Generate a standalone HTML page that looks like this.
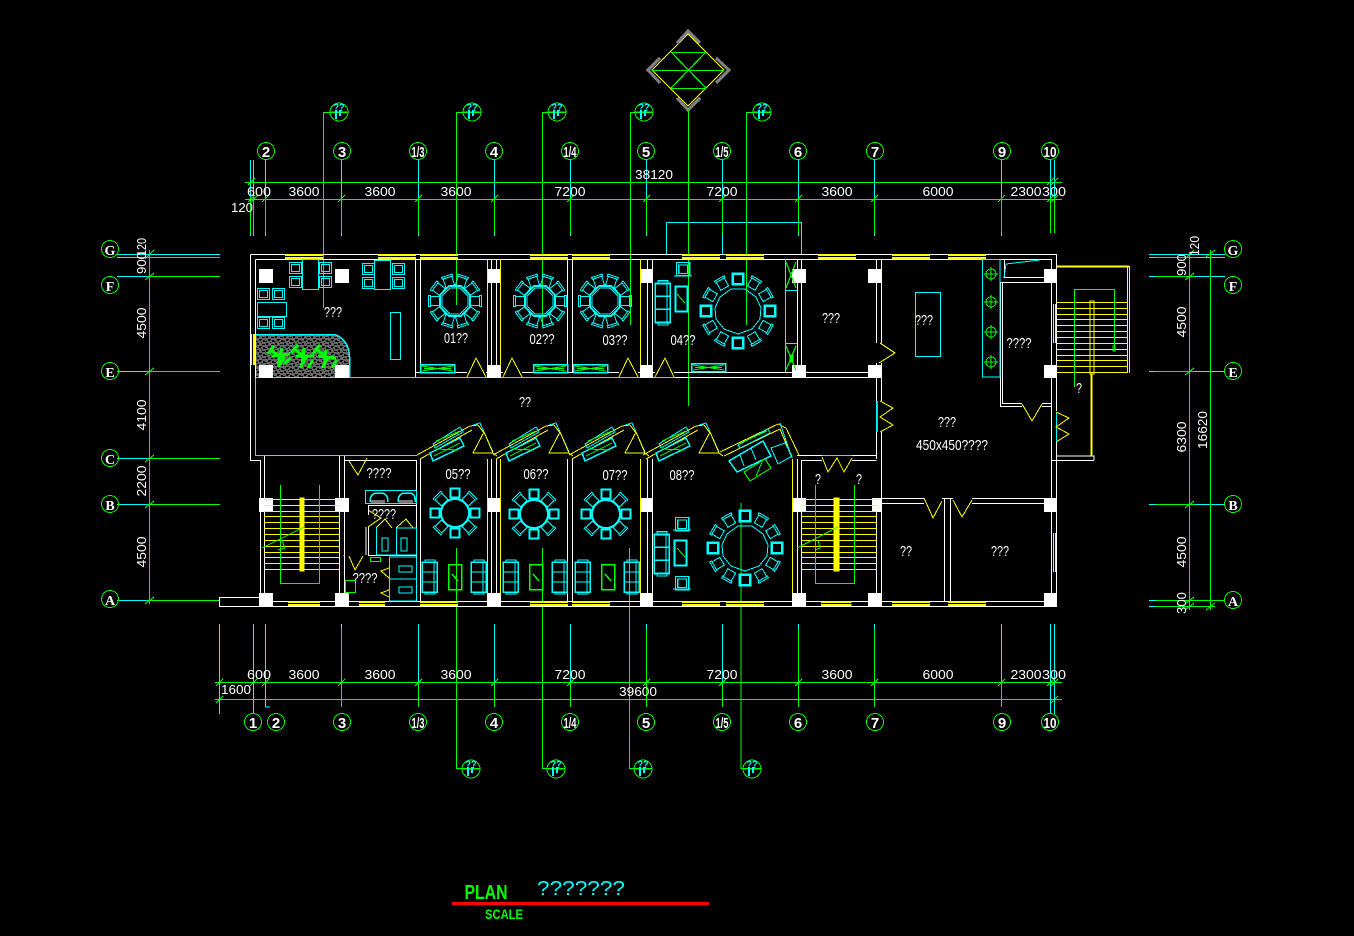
<!DOCTYPE html>
<html><head><meta charset="utf-8"><style>
html,body{margin:0;padding:0;background:#000;width:1354px;height:936px;overflow:hidden}
svg{display:block}
svg *{shape-rendering:crispEdges}
.w{stroke:#fff}.c{stroke:#0ff}.g{stroke:#0f0}.y{stroke:#ff0}
path,rect,polygon,polyline,line,circle{fill:none;stroke-width:1}
text{font-family:"Liberation Sans",sans-serif;fill:#fff;text-anchor:middle;font-size:13px}
.t{font-size:15px}
.b{font-family:"Liberation Serif",serif;font-size:17px;font-weight:bold}
.n{font-size:15px;font-weight:bold}
</style></head><body>
<svg width="1354" height="936" viewBox="0 0 1354 936" xmlns="http://www.w3.org/2000/svg">
<defs>
<pattern id="noise" width="9" height="7" patternUnits="userSpaceOnUse"><rect width="9" height="7" style="fill:#666;stroke:none"/><path d="M1 1h3v1h-3zM5 0h2v2h-2zM7 3h2v2h-2zM2 4h2v2h-2zM4 5h2v1h-2zM0 6h1v1h-1zM0 3h1v1h-1z" style="fill:#000;stroke:none"/></pattern>
<g id="c" class="c"><path d="M-4.5-3.5h9v9h-9zM-5.5-5.5h11v2h-11z"/></g>
<g id="cb" class="c"><rect x="-5" y="-5" width="10" height="10" style="stroke-width:2"/><path d="M-6-6h12v12h-12z"/></g>
<g id="o10" class="c"><polygon points="-6,-15 6,-15 15,-6 15,6 6,15 -6,15 -15,6 -15,-6" style="stroke-width:1.6"/><polygon points="-5,-13 5,-13 13,-5 13,5 5,13 -5,13 -13,5 -13,-5"/></g>
<g id="t10"><use href="#o10"/>
<use href="#c" transform="rotate(18) translate(0,-21)"/><use href="#c" transform="rotate(54) translate(0,-21)"/><use href="#c" transform="rotate(90) translate(0,-21)"/><use href="#c" transform="rotate(126) translate(0,-21)"/><use href="#c" transform="rotate(162) translate(0,-21)"/><use href="#c" transform="rotate(198) translate(0,-21)"/><use href="#c" transform="rotate(234) translate(0,-21)"/><use href="#c" transform="rotate(270) translate(0,-21)"/><use href="#c" transform="rotate(306) translate(0,-21)"/><use href="#c" transform="rotate(342) translate(0,-21)"/></g>
<g id="t8"><circle r="14" class="c" style="stroke-width:2"/>
<use href="#cb" transform="rotate(0) translate(0,-20) scale(.85)"/><use href="#c" transform="rotate(45) translate(0,-20)"/><use href="#cb" transform="rotate(90) translate(0,-20) scale(.85)"/><use href="#c" transform="rotate(135) translate(0,-20)"/><use href="#cb" transform="rotate(180) translate(0,-20) scale(.85)"/><use href="#c" transform="rotate(225) translate(0,-20)"/><use href="#cb" transform="rotate(270) translate(0,-20) scale(.85)"/><use href="#c" transform="rotate(315) translate(0,-20)"/></g>
<g id="t12"><polygon class="c" points="-7,-22 7,-22 18,-14 23,-3 22,8 14,18 0,23 -14,18 -22,8 -23,-3 -18,-14"/>
<use href="#cb" transform="rotate(0) translate(0,-32)"/><use href="#c" transform="rotate(30) translate(0,-32)"/><use href="#c" transform="rotate(60) translate(0,-32)"/><use href="#cb" transform="rotate(90) translate(0,-32)"/><use href="#c" transform="rotate(120) translate(0,-32)"/><use href="#c" transform="rotate(150) translate(0,-32)"/><use href="#cb" transform="rotate(180) translate(0,-32)"/><use href="#c" transform="rotate(210) translate(0,-32)"/><use href="#c" transform="rotate(240) translate(0,-32)"/><use href="#cb" transform="rotate(270) translate(0,-32)"/><use href="#c" transform="rotate(300) translate(0,-32)"/><use href="#c" transform="rotate(330) translate(0,-32)"/></g>
<g id="sofa" class="c"><rect x="0" y="1" width="15" height="30" style="stroke-width:1.5"/><path d="M3 1V-1H13V1M3 31v2H13V31M0 11H15M0 21H15M12 1V31"/></g>
<g id="sq" class="c"><rect x=".5" y=".5" width="12" height="11"/><rect x="2.5" y="2.5" width="8" height="7"/></g>
<g id="tbl"><rect x=".5" y=".5" width="13" height="25" class="g" style="stroke-width:1.5"/><path class="g" d="M4 10L10 17" style="stroke-width:1.5"/></g>
<g id="wx" ><rect x=".5" y=".5" width="34" height="8" class="c" style="stroke-width:1.5"/><path class="g" d="M2 2L33 7M2 7L33 2M4 4.5H31"/></g>
<g id="tr" class="y"><path d="M0 499.5H76M0 505.5H76M0 511.5H76M0 516.5H76M0 522.5H76M0 528.5H76M0 534.5H76M0 540.5H76M0 546.5H76M0 552.5H76M0 557.5H76M0 563.5H76M0 569.5H76"/></g>
<g id="win"><rect x="0" y="0" width="38" height="5" style="fill:#ff0;stroke:none"/><rect x="0" y="2" width="38" height="1" style="fill:#000;stroke:none"/></g>
<g id="sl">
<path class="y" d="M417 455L470 426L478 425M420 459L472 430M478 425L484 433"/>
<path class="c" d="M473 425L480 423L493 452"/>
<polygon class="c" points="433,444 460,427 463,432 435,448"/>
<polygon class="c" points="430,453 460,438 464,446 433,461" style="stroke-width:1.5"/>
<path class="g" d="M436 441L460 431M434 456L460 443M436 449L458 450"/>
<polygon class="y" points="473,453 484,432 493,453"/>
<path class="y" d="M493 453L497 456"/>
</g>
<g id="bb"><circle r="8.5" class="g"/></g>
<g id="sec"><circle r="9" class="g"/><path class="g" d="M-9 0H9"/><path class="c" d="M-3-2v9M1-2v6" style="stroke-width:2"/><text y="-1" style="font-size:11px;font-weight:bold;fill:#0ff" textLength="11" lengthAdjust="spacingAndGlyphs">??</text></g>
</defs>

<!-- north arrow -->
<g>
<polygon class="y" points="688,34 724,70 688,106 652,70"/>
<path class="g" d="M671 52.5H706M652 70.5H724M671 88.5H706M671 52L706 88M706 52L671 88" style="stroke-width:1.2"/>
<path d="M677 43L688 31L700 43M660 58L648 70L660 83M716 58L729 70L716 83M677 98L688 110L700 98" style="stroke:#808080;stroke-width:3"/>
<path class="g" d="M688.5 110V406"/>
</g>

<!-- section leaders -->
<path class="g" d="M348 112.5H323.5V308M481 112.5H456.5V305M566 112.5H542.5V325M653 112.5H630.5V325M771 112.5H746.5V325M456.5 548V768.5H480M542.5 548V768.5H565M629.5 548V768.5H652M741 503V768.5H761"/>
<use href="#sec" transform="translate(339,112)"/><use href="#sec" transform="translate(472,112)"/><use href="#sec" transform="translate(557,112)"/><use href="#sec" transform="translate(644,112)"/><use href="#sec" transform="translate(762,112)"/>
<use href="#sec" transform="translate(471,769)"/><use href="#sec" transform="translate(556,769)"/><use href="#sec" transform="translate(643,769)"/><use href="#sec" transform="translate(752,769)"/>

<!-- top dims -->
<path class="g" d="M245 182.5H1062M245 199.5H1062"/>
<path class="g" d="M250.5 197V233M253.5 197V233M265.5 197V233M341.5 197V233M418.5 197V233M494.5 197V233M570.5 197V233M646.5 197V233M722.5 197V233M798.5 197V233M874.5 197V233M1001.5 197V233M1050.5 197V233M1054.5 197V233"/>
<path class="c" d="M250.5 160V197M253.5 160V197M265.5 160V197M341.5 160V197M418.5 160V197M494.5 160V197M570.5 160V197M646.5 160V197M722.5 160V197M798.5 160V197M874.5 160V197M1001.5 160V197M1050.5 160V197M1054.5 160V197M250.5 233V236M253.5 233V236M265.5 233V236M341.5 233V236M418.5 233V236M494.5 233V236M570.5 233V236M646.5 233V236M722.5 233V254M798.5 233V236M874.5 233V236M1001.5 233V236M666.5 222.5V254M666.5 222.5H801.5V254"/>
<path class="g" d="M248 202L255 195M251 202L258 195M262 202L269 195M338 202L345 195M415 202L422 195M491 202L498 195M567 202L574 195M643 202L650 195M719 202L726 195M795 202L802 195M871 202L878 195M998 202L1005 195M1047 202L1054 195M1051 202L1058 195M248 185L255 178M1047 185L1054 178M1051 185L1058 178"/>
<g class="t2">
<text x="259" y="196" textLength="24" lengthAdjust="spacingAndGlyphs">600</text><text x="304" y="196" textLength="31" lengthAdjust="spacingAndGlyphs">3600</text><text x="380" y="196" textLength="31" lengthAdjust="spacingAndGlyphs">3600</text><text x="456" y="196" textLength="31" lengthAdjust="spacingAndGlyphs">3600</text><text x="570" y="196" textLength="31" lengthAdjust="spacingAndGlyphs">7200</text><text x="722" y="196" textLength="31" lengthAdjust="spacingAndGlyphs">7200</text><text x="837" y="196" textLength="31" lengthAdjust="spacingAndGlyphs">3600</text><text x="938" y="196" textLength="31" lengthAdjust="spacingAndGlyphs">6000</text><text x="1026" y="196" textLength="31" lengthAdjust="spacingAndGlyphs">2300</text><text x="1054" y="196" textLength="24" lengthAdjust="spacingAndGlyphs">300</text>
<text x="654" y="179" textLength="38" lengthAdjust="spacingAndGlyphs">38120</text><text x="242" y="212" textLength="22" lengthAdjust="spacingAndGlyphs">120</text>
</g>
<use href="#bb" transform="translate(266,151)"/><use href="#bb" transform="translate(342,151)"/><use href="#bb" transform="translate(418,151)"/><use href="#bb" transform="translate(494,151)"/><use href="#bb" transform="translate(570,151)"/><use href="#bb" transform="translate(646,151)"/><use href="#bb" transform="translate(722,151)"/><use href="#bb" transform="translate(798,151)"/><use href="#bb" transform="translate(875,151)"/><use href="#bb" transform="translate(1002,151)"/><use href="#bb" transform="translate(1050,151)"/>
<text class="n" x="266" y="157">2</text><text class="n" x="342" y="157">3</text><text class="n" x="418" y="157" textLength="13" lengthAdjust="spacingAndGlyphs">1/3</text><text class="n" x="494" y="157">4</text><text class="n" x="570" y="157" textLength="13" lengthAdjust="spacingAndGlyphs">1/4</text><text class="n" x="646" y="157">5</text><text class="n" x="722" y="157" textLength="13" lengthAdjust="spacingAndGlyphs">1/5</text><text class="n" x="798" y="157">6</text><text class="n" x="875" y="157">7</text><text class="n" x="1002" y="157">9</text><text class="n" x="1050" y="157" textLength="13" lengthAdjust="spacingAndGlyphs">10</text>

<!-- bottom dims -->
<path class="g" d="M215 682.5H1062M215 699.5H1062M341.5 630V707M646.5 630V707M722.5 682V707M798.5 630V707M874.5 630V707M1001.5 682V707"/>
<path class="c" d="M219.5 624V714M253.5 624V714M265.5 624V707H270M341.5 624V630M418.5 624V682M494.5 624V682M570.5 624V682M646.5 624V630M722.5 624V682M798.5 624V630M874.5 624V630M1001.5 624V682M1050.5 624V714M1054.5 624V714"/>
<path class="g" d="M418.5 682V707M494.5 682V707M570.5 682V707M216 686L223 679M216 703L223 696M250 686L257 679M262 686L269 679M338 686L345 679M415 686L422 679M491 686L498 679M567 686L574 679M643 686L650 679M719 686L726 679M795 686L802 679M871 686L878 679M998 686L1005 679M1047 686L1054 679M1051 686L1058 679M1051 703L1058 696"/>
<text x="259" y="679" textLength="24" lengthAdjust="spacingAndGlyphs">600</text><text x="304" y="679" textLength="31" lengthAdjust="spacingAndGlyphs">3600</text><text x="380" y="679" textLength="31" lengthAdjust="spacingAndGlyphs">3600</text><text x="456" y="679" textLength="31" lengthAdjust="spacingAndGlyphs">3600</text><text x="570" y="679" textLength="31" lengthAdjust="spacingAndGlyphs">7200</text><text x="722" y="679" textLength="31" lengthAdjust="spacingAndGlyphs">7200</text><text x="837" y="679" textLength="31" lengthAdjust="spacingAndGlyphs">3600</text><text x="938" y="679" textLength="31" lengthAdjust="spacingAndGlyphs">6000</text><text x="1026" y="679" textLength="31" lengthAdjust="spacingAndGlyphs">2300</text><text x="1054" y="679" textLength="24" lengthAdjust="spacingAndGlyphs">300</text>
<text x="236" y="694" textLength="30" lengthAdjust="spacingAndGlyphs">1600</text><text x="638" y="696" textLength="38" lengthAdjust="spacingAndGlyphs">39600</text>
<use href="#bb" transform="translate(253,722)"/><use href="#bb" transform="translate(276,722)"/><use href="#bb" transform="translate(342,722)"/><use href="#bb" transform="translate(418,722)"/><use href="#bb" transform="translate(494,722)"/><use href="#bb" transform="translate(570,722)"/><use href="#bb" transform="translate(646,722)"/><use href="#bb" transform="translate(722,722)"/><use href="#bb" transform="translate(798,722)"/><use href="#bb" transform="translate(875,722)"/><use href="#bb" transform="translate(1002,722)"/><use href="#bb" transform="translate(1050,722)"/>
<text class="n" x="253" y="728">1</text><text class="n" x="276" y="728">2</text><text class="n" x="342" y="728">3</text><text class="n" x="418" y="728" textLength="13" lengthAdjust="spacingAndGlyphs">1/3</text><text class="n" x="494" y="728">4</text><text class="n" x="570" y="728" textLength="13" lengthAdjust="spacingAndGlyphs">1/4</text><text class="n" x="646" y="728">5</text><text class="n" x="722" y="728" textLength="13" lengthAdjust="spacingAndGlyphs">1/5</text><text class="n" x="798" y="728">6</text><text class="n" x="875" y="728">7</text><text class="n" x="1002" y="728">9</text><text class="n" x="1050" y="728" textLength="13" lengthAdjust="spacingAndGlyphs">10</text>

<!-- left dims -->
<path class="c" d="M117 254.5H220M117 257.5H147M117 276.5H147M117 371.5H147M117 458.5H147M117 504.5H147M117 600.5H147"/>
<path class="g" d="M147 257.5H220M147 276.5H220M147 371.5H220M147 458.5H220M147 504.5H220M147 600.5H220M149.5 250V604M145 259L154 250M145 280L154 273M145 375L154 368M145 462L154 455M145 508L154 501M145 604L154 597"/>
<use href="#bb" transform="translate(110,249)"/><use href="#bb" transform="translate(110,285)"/><use href="#bb" transform="translate(110,371)"/><use href="#bb" transform="translate(110,458)"/><use href="#bb" transform="translate(110,504)"/><use href="#bb" transform="translate(110,599)"/>
<text class="b" x="110" y="255" style="font-size:14px">G</text><text class="b" x="110" y="291" style="font-size:14px">F</text><text class="b" x="110" y="377" style="font-size:14px">E</text><text class="b" x="110" y="464" style="font-size:14px">C</text><text class="b" x="110" y="510" style="font-size:14px">B</text><text class="b" x="110" y="605" style="font-size:14px">A</text>
<text transform="translate(146,323) rotate(-90)" textLength="31" lengthAdjust="spacingAndGlyphs">4500</text>
<text transform="translate(146,415) rotate(-90)" textLength="31" lengthAdjust="spacingAndGlyphs">4100</text>
<text transform="translate(146,481) rotate(-90)" textLength="31" lengthAdjust="spacingAndGlyphs">2200</text>
<text transform="translate(146,552) rotate(-90)" textLength="31" lengthAdjust="spacingAndGlyphs">4500</text>
<text transform="translate(146,263) rotate(-90)" textLength="22" lengthAdjust="spacingAndGlyphs">900</text>
<text transform="translate(146,247) rotate(-90)" textLength="18" lengthAdjust="spacingAndGlyphs">120</text>

<!-- right dims -->
<path class="c" d="M1149 254.5H1225M1149 257.5H1225M1149 276.5H1156M1195 276.5H1225M1149 371.5H1156M1195 371.5H1225M1149 504.5H1156M1195 504.5H1225M1149 600.5H1156M1195 600.5H1225M1149 606.5H1156"/>
<path class="g" d="M1156 257.5H1195M1156 276.5H1195M1156 371.5H1195M1156 504.5H1195M1156 600.5H1225M1156 606.5H1215M1189.5 252V610M1210.5 250V610M1185 259L1194 250M1185 280L1194 273M1185 375L1194 368M1185 508L1194 501M1185 604L1194 597M1185 610L1194 603M1206 257L1215 250M1206 610L1215 603"/>
<use href="#bb" transform="translate(1233,249)"/><use href="#bb" transform="translate(1233,285)"/><use href="#bb" transform="translate(1233,371)"/><use href="#bb" transform="translate(1233,504)"/><use href="#bb" transform="translate(1233,600)"/>
<text class="b" x="1233" y="255" style="font-size:14px">G</text><text class="b" x="1233" y="291" style="font-size:14px">F</text><text class="b" x="1233" y="377" style="font-size:14px">E</text><text class="b" x="1233" y="510" style="font-size:14px">B</text><text class="b" x="1233" y="606" style="font-size:14px">A</text>
<text transform="translate(1186,322) rotate(-90)" textLength="31" lengthAdjust="spacingAndGlyphs">4500</text>
<text transform="translate(1186,437) rotate(-90)" textLength="31" lengthAdjust="spacingAndGlyphs">6300</text>
<text transform="translate(1186,552) rotate(-90)" textLength="31" lengthAdjust="spacingAndGlyphs">4500</text>
<text transform="translate(1186,265) rotate(-90)" textLength="22" lengthAdjust="spacingAndGlyphs">900</text>
<text transform="translate(1186,603) rotate(-90)" textLength="22" lengthAdjust="spacingAndGlyphs">300</text>
<text transform="translate(1199,246) rotate(-90)" textLength="20" lengthAdjust="spacingAndGlyphs">120</text>
<text transform="translate(1207,430) rotate(-90)" textLength="38" lengthAdjust="spacingAndGlyphs">16620</text>

<!-- planter -->
<path d="M256 334H335Q349 340 349 357V377H256Z" style="fill:url(#noise);stroke:none"/>
<path class="c" d="M256 334.5H335Q349 340 349.5 357V377" style="stroke-width:1.5"/>
<path class="g" d="M270 350L284 358L278 367M272 356L290 354M282 348L278 364M268 354L274 346M284 364L291 358M293 348L306 358L300 368M296 356L314 356M304 348L302 366M291 353L298 345M308 368L313 360M315 348L328 358L322 368M318 356L336 358M326 350L324 368M313 354L320 345M332 368L337 360" style="stroke-width:3"/>

<!-- walls -->
<path class="w" d="M250.5 254.5H1056.5V411M1056.5 442V606.5H219.5V597.5H260.5V460.5H250.5V254.5"/>
<path class="w" d="M255.5 259.5H1051.5V600M255.5 259.5V378M273 601.5H1052"/>
<path class="w" d="M415.5 259V377M420.5 259V372M491.5 259V372M496.5 259V372M567.5 259V372M572.5 259V372M647.5 259V372M652.5 259V372M797.5 259V372M801.5 259V377M876.5 259V343M881.5 259V343M876.5 363V401M881.5 363V401M876.5 432V459M881.5 432V600"/>
<path class="w" d="M416 372.5H467M486 372.5H503M522 372.5H619M638 372.5H655M674 372.5H876M675 377.5H877"/>
<path class="c" d="M255.5 378V455.5H417M256 377.5H675M876.5 401V432"/>
<path class="g" d="M877.5 401V432"/>
<path class="c" d="M1056.5 412V442"/>
<path class="y" d="M880 343L895 353L879 363M880 401L893 408L880 417L893 425L880 432M1056 412L1069 418L1056 427L1069 434L1056 442" style="stroke-width:1"/>
<!-- lower walls -->
<path class="w" d="M264.5 456V601M339.5 456V601M344.5 456V601M345 460.5H416.5V601M420.5 459V601M491.5 459V601M496.5 459V601M567.5 459V601M572.5 459V601M647.5 459V601M652.5 459V601M797.5 459V601M801.5 460V601M801 460.5H822M852 460.5H876.5M797 455.5H822M852 455.5H876.5M876.5 498V601M881 498.5H924M881 503.5H924M942 498.5H953M972 498.5H1044M972 503.5H1044M944.5 499V601M950.5 499V601M1051.5 460.5H1094M1056.5 456H1094V460"/>
<path class="y" d="M487.5 259V365M500.5 259V365M640.5 259V365M487.5 459V593M500.5 459V593M640.5 459V593M792.5 459V593" style="stroke-width:1.3"/>
<path class="c" d="M822 455.5H852"/>
<path class="y" d="M822 457L828 472L837 458L844 472L852 458M924 498L933 518L942 501M953 500L962 517L972 500M1022 404L1032 421L1042 404"/>
<!-- room at right -->
<path class="w" d="M1000.5 282V406.5H1022M1002.5 282V403.5H1022M1042 403.5H1052M1042 406.5H1052M1000 282.5H1044M1004.5 260V277.5H1044"/>
<path class="c" d="M1004 278L1006 264L1040 260M982.5 259.5H1000V377H982.5Z"/>
<g class="g"><circle cx="991" cy="274" r="5"/><circle cx="991" cy="302" r="5"/><circle cx="991" cy="332" r="5"/><circle cx="991" cy="362" r="5"/><path d="M984 274H998M991 267V281M984 302H998M991 295V309M984 332H998M991 325V339M984 362H998M991 355V369"/></g>
<rect class="c" x="915.5" y="292.5" width="25" height="64"/>

<!-- columns -->
<g style="fill:#fff">
<rect x="259" y="269" width="14" height="14" style="fill:#fff;stroke:none"/><rect x="335" y="269" width="14" height="14" style="fill:#fff;stroke:none"/><rect x="488" y="269" width="12" height="14" style="fill:#fff;stroke:none"/><rect x="641" y="269" width="12" height="14" style="fill:#fff;stroke:none"/><rect x="792" y="269" width="14" height="14" style="fill:#fff;stroke:none"/><rect x="868" y="269" width="14" height="14" style="fill:#fff;stroke:none"/><rect x="1044" y="269" width="13" height="14" style="fill:#fff;stroke:none"/>
<rect x="259" y="365" width="14" height="13" style="fill:#fff;stroke:none"/><rect x="335" y="365" width="14" height="13" style="fill:#fff;stroke:none"/><rect x="487" y="365" width="14" height="13" style="fill:#fff;stroke:none"/><rect x="640" y="365" width="13" height="13" style="fill:#fff;stroke:none"/><rect x="792" y="365" width="14" height="13" style="fill:#fff;stroke:none"/><rect x="868" y="365" width="14" height="13" style="fill:#fff;stroke:none"/><rect x="1044" y="365" width="13" height="13" style="fill:#fff;stroke:none"/>
<rect x="259" y="498" width="14" height="14" style="fill:#fff;stroke:none"/><rect x="335" y="498" width="14" height="14" style="fill:#fff;stroke:none"/><rect x="488" y="498" width="12" height="14" style="fill:#fff;stroke:none"/><rect x="641" y="498" width="12" height="14" style="fill:#fff;stroke:none"/><rect x="793" y="498" width="13" height="14" style="fill:#fff;stroke:none"/><rect x="872" y="498" width="10" height="14" style="fill:#fff;stroke:none"/><rect x="1044" y="498" width="13" height="14" style="fill:#fff;stroke:none"/>
<rect x="259" y="593" width="14" height="14" style="fill:#fff;stroke:none"/><rect x="335" y="593" width="14" height="14" style="fill:#fff;stroke:none"/><rect x="487" y="593" width="14" height="14" style="fill:#fff;stroke:none"/><rect x="640" y="593" width="13" height="14" style="fill:#fff;stroke:none"/><rect x="792" y="593" width="14" height="14" style="fill:#fff;stroke:none"/><rect x="868" y="593" width="14" height="14" style="fill:#fff;stroke:none"/><rect x="1044" y="593" width="13" height="14" style="fill:#fff;stroke:none"/>
</g>

<!-- windows -->
<use href="#win" transform="translate(285,254)"/><use href="#win" transform="translate(378,254)"/><use href="#win" transform="translate(420,254)"/><use href="#win" transform="translate(530,254)"/><use href="#win" transform="translate(572,254)"/><use href="#win" transform="translate(682,254)"/><use href="#win" transform="translate(726,254)"/><use href="#win" transform="translate(818,254)"/><use href="#win" transform="translate(892,254)"/><use href="#win" transform="translate(948,254)"/>
<use href="#win" transform="translate(288,601) scale(.84,1)"/><use href="#win" transform="translate(359,601) scale(.68,1)"/><use href="#win" transform="translate(420,601)"/><use href="#win" transform="translate(530,601)"/><use href="#win" transform="translate(572,601)"/><use href="#win" transform="translate(682,601)"/><use href="#win" transform="translate(726,601)"/><use href="#win" transform="translate(821,601) scale(.8,1)"/><use href="#win" transform="translate(892,601)"/><use href="#win" transform="translate(948,601)"/>
<path class="y" d="M251.5 334V365M253.5 334V365M254.5 334V365M1053.5 304V343M1055.5 304V343M1053.5 533V572M1055.5 533V572"/>

<!-- upper furniture -->
<g class="c" style="stroke-width:1.5">
<rect x="302.5" y="259.5" width="16" height="30"/><rect x="374.5" y="260.5" width="16" height="29"/><rect x="257.5" y="302.5" width="29" height="14"/><rect x="390.5" y="312.5" width="10" height="47"/>
</g>
<use href="#sq" transform="translate(289,262)"/><use href="#sq" transform="translate(289,276)"/><use href="#sq" transform="translate(319,262)"/><use href="#sq" transform="translate(319,276)"/><use href="#sq" transform="translate(362,263)"/><use href="#sq" transform="translate(362,277)"/><use href="#sq" transform="translate(392,263)"/><use href="#sq" transform="translate(392,277)"/><use href="#sq" transform="translate(257,288)"/><use href="#sq" transform="translate(272,288)"/><use href="#sq" transform="translate(257,317)"/><use href="#sq" transform="translate(272,317)"/>
<use href="#t10" transform="translate(455,301)"/><use href="#t10" transform="translate(540,301)"/><use href="#t10" transform="translate(605,301)"/>
<use href="#t12" transform="translate(738,311)"/>
<use href="#wx" transform="translate(420,364)"/><use href="#wx" transform="translate(533,364)"/><use href="#wx" transform="translate(573,364)"/><use href="#wx" transform="translate(691,363)"/>
<path class="y" d="M467 377L476 358L486 377M503 377L512 358L522 377M619 377L628 358L638 377M655 377L665 358L674 377"/>
<use href="#sofa" transform="translate(655,282) scale(1,1.3)"/>
<rect class="c" x="675.5" y="286.5" width="12" height="25" style="stroke-width:2"/><path class="g" d="M677 294L685 303"/>
<use href="#sq" transform="translate(676,262) scale(1.1,1.2)"/><path class="c" d="M674 276H692"/>
<path class="c" d="M785.5 259V372M785.5 290.5H797M785.5 343.5H797"/>
<path class="g" d="M786 262L796 288M796 262L786 288M786 346L796 370M796 346L786 370" style="stroke-width:1.2"/>
<path class="g" d="M790 355h3v7h-3z" style="fill:#0f0"/>

<!-- right stair -->
<path class="y" d="M1057 266.5H1129M1127.5 266V373M1129.5 266V373"/>
<path class="y" d="M1057 266.5H1129" style="stroke-width:2"/>
<use href="#tr" transform="translate(1057,-197) scale(.92,1)"/>
<rect x="1090" y="301" width="4" height="73" style="stroke:#ff0;stroke-width:1"/>
<path class="y" d="M1091.5 374V456" style="stroke-width:2"/>
<path class="g" d="M1074.5 387V289.5H1114.5V350"/>
<path class="g" d="M1113 346h2v5h-2z"/>

<!-- left stair -->
<use href="#tr" transform="translate(264,0)"/>
<rect x="300" y="498" width="4" height="73" style="fill:#ff0;stroke:#ff0"/>
<path class="g" d="M280.5 485V583.5H319.5V485M262 548L304 527M278 550L285 548L282 540"/>
<use href="#tr" transform="translate(801,0)"/>
<rect x="834" y="498" width="5" height="73" style="fill:#ff0;stroke:#ff0"/>
<path class="g" d="M815.5 485V583.5H854.5V485M797 548L838 527M815 550L820 548L818 540"/>

<!-- toilets -->
<path class="y" d="M349 461L358 475L367 458M349 556L355 570L363 556M381 518L368 527M368 510L381 518"/>
<rect class="c" x="365.5" y="490.5" width="51" height="13"/>
<path class="c" d="M370 502Q370 494 376 493H382Q388 494 388 502M398 502Q398 494 404 493H410Q416 494 415 502" style="stroke-width:1.5"/>
<path d="M371 503h14v-3h-14zM399 503h14v-3h-14z" style="fill:#777;stroke:none"/>
<path class="w" d="M368.5 505.5H416M368.5 505V515M368.5 527V555.5H416M366 527V555M344 555V556"/>
<path class="c" d="M376.5 528V555H416.5V528H396.5V555M382 538h6v13h-6zM401 538h6v13h-6z"/>
<path class="y" d="M376 528L385 519L392 528M396 528L406 519L413 528"/>
<path class="c" d="M389.5 557H416.5V601H389.5ZM389.5 579H416.5M399 566h13v6h-13zM399 587h13v6h-13z"/>
<path class="y" d="M389 568L381 571L389 578M389 590L381 593L389 597"/>
<rect class="g" x="345.5" y="580.5" width="10" height="12"/>
<rect class="g" x="370.5" y="557.5" width="10" height="4"/>

<!-- lower rooms -->
<use href="#sl"/><use href="#sl" transform="translate(76,0)"/><use href="#sl" transform="translate(152,0)"/><use href="#sl" transform="translate(226,0)"/>
<path class="y" d="M720 452L778 424L786 428L799 455M724 456L780 429L792 458"/>
<path class="c" d="M780 423L792 458"/>
<polygon class="c" points="738,445 768,429 770,433 740,448"/>
<path class="g" d="M740 443L767 431"/>
<polygon class="c" points="729,461 763,441 771,456 737,472" style="stroke-width:1.5"/>
<path class="c" d="M740 455L744 466M751 448L756 460"/>
<polygon class="c" points="771,448 785,443 792,456 778,464"/>
<polygon class="g" points="744,472 765,459 771,468 750,481"/>
<path class="g" d="M756 476L762 462"/>
<use href="#t8" transform="translate(455,513)"/><use href="#t8" transform="translate(534,514)"/><use href="#t8" transform="translate(606,514)"/>
<use href="#t12" transform="translate(745,548)"/>
<use href="#sofa" transform="translate(422,561)"/><use href="#sofa" transform="translate(471,561)"/><use href="#sofa" transform="translate(503,561)"/><use href="#sofa" transform="translate(552,561)"/><use href="#sofa" transform="translate(575,561)"/><use href="#sofa" transform="translate(624,561)"/>
<use href="#tbl" transform="translate(448,564)"/><use href="#tbl" transform="translate(529,564)"/><use href="#tbl" transform="translate(601,564)"/>
<use href="#sofa" transform="translate(654,533) scale(1,1.3)"/>
<rect class="c" x="674.5" y="540.5" width="12" height="25" style="stroke-width:2"/><path class="g" d="M677 548L685 557"/>
<use href="#sq" transform="translate(675,517) scale(1.1,1.2)"/><use href="#sq" transform="translate(675,576) scale(1.1,1.2)"/>
<path class="c" d="M673 530H691M673 589H691"/>

<!-- room labels -->
<g>
<text class="t" x="333" y="317" textLength="18" lengthAdjust="spacingAndGlyphs">???</text>
<text class="t" x="456" y="343" textLength="24" lengthAdjust="spacingAndGlyphs">01??</text>
<text class="t" x="542" y="344" textLength="25" lengthAdjust="spacingAndGlyphs">02??</text>
<text class="t" x="615" y="345" textLength="25" lengthAdjust="spacingAndGlyphs">03??</text>
<text class="t" x="683" y="345" textLength="25" lengthAdjust="spacingAndGlyphs">04??</text>
<text class="t" x="831" y="323" textLength="18" lengthAdjust="spacingAndGlyphs">???</text>
<text class="t" x="924" y="325" textLength="18" lengthAdjust="spacingAndGlyphs">???</text>
<text class="t" x="1019" y="348" textLength="25" lengthAdjust="spacingAndGlyphs">????</text>
<text class="t" x="1079" y="393" textLength="6" lengthAdjust="spacingAndGlyphs">?</text>
<text class="t" x="525" y="407" textLength="12" lengthAdjust="spacingAndGlyphs">??</text>
<text class="t" x="947" y="427" textLength="18" lengthAdjust="spacingAndGlyphs">???</text>
<text class="t" x="952" y="450" textLength="72" lengthAdjust="spacingAndGlyphs">450x450????</text>
<text class="t" x="458" y="479" textLength="25" lengthAdjust="spacingAndGlyphs">05??</text>
<text class="t" x="536" y="479" textLength="25" lengthAdjust="spacingAndGlyphs">06??</text>
<text class="t" x="615" y="480" textLength="25" lengthAdjust="spacingAndGlyphs">07??</text>
<text class="t" x="682" y="480" textLength="25" lengthAdjust="spacingAndGlyphs">08??</text>
<text class="t" x="379" y="478" textLength="25" lengthAdjust="spacingAndGlyphs">????</text>
<text class="t" x="384" y="519" textLength="24" lengthAdjust="spacingAndGlyphs">????</text>
<text class="t" x="365" y="583" textLength="25" lengthAdjust="spacingAndGlyphs">????</text>
<text class="t" x="818" y="484" textLength="6" lengthAdjust="spacingAndGlyphs">?</text>
<text class="t" x="859" y="484" textLength="6" lengthAdjust="spacingAndGlyphs">?</text>
<text class="t" x="906" y="556" textLength="12" lengthAdjust="spacingAndGlyphs">??</text>
<text class="t" x="1000" y="556" textLength="18" lengthAdjust="spacingAndGlyphs">???</text>
</g>

<!-- title -->
<text x="486" y="899" textLength="43" lengthAdjust="spacingAndGlyphs" style="font-size:20px;font-weight:bold;fill:#0f0">PLAN</text>
<text x="581" y="895" textLength="88" lengthAdjust="spacingAndGlyphs" style="font-size:20px;fill:#0ff">???????</text>
<rect x="452" y="902" width="257" height="3" style="fill:#f00;stroke:none"/>
<text x="504" y="919" textLength="38" lengthAdjust="spacingAndGlyphs" style="font-size:14px;font-weight:bold;fill:#0f0">SCALE</text>
</svg>
</body></html>
